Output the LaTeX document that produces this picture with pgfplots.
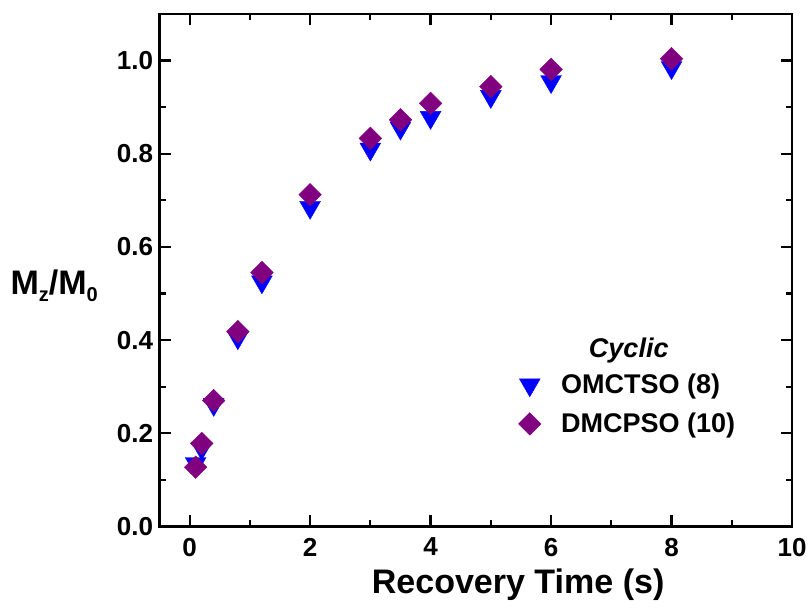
\documentclass[border=0pt]{standalone}
\usepackage{pgfplots}
\pgfplotsset{compat=1.18}
\usepackage{fontspec}
\setmainfont{Liberation Sans}
\definecolor{mblue}{RGB}{0,0,255}
\definecolor{mpurple}{RGB}{128,0,128}
\begin{document}
\begin{tikzpicture}
\begin{axis}[
  scale only axis, width=632pt, height=512pt,
  xmin=-0.5, xmax=10, ymin=0, ymax=1.1,
  xtick={0,2,4,6,8,10}, minor xtick={1,3,5,7,9},
  ytick={0,0.2,0.4,0.6,0.8,1.0}, minor ytick={0.1,0.3,0.5,0.7,0.9},
  tick align=inside, major tick length=11pt, minor tick length=6pt,
  axis line style={line width=2.6pt},
  every tick/.style={line width=2.2pt, black},
  /pgf/number format/assume math mode=true,
  yticklabel style={/pgf/number format/fixed, /pgf/number format/fixed zerofill, /pgf/number format/precision=1, font=\fontsize{26}{30}\selectfont\bfseries, xshift=-3pt},
  xticklabel style={font=\fontsize{26}{30}\selectfont\bfseries, yshift=-8pt},
  xlabel={Recovery Time (s)},
  xlabel style={font=\fontsize{34}{40}\selectfont\bfseries, at={(axis description cs:0.567,-0.113)}, anchor=center},
  ylabel={M\raisebox{-0.4ex}{\fontsize{20}{20}\selectfont z}/M\raisebox{-0.4ex}{\fontsize{20}{20}\selectfont 0}},
  ylabel style={font=\fontsize{34}{40}\selectfont\bfseries, rotate=-90, anchor=east, at={(axis description cs:-0.092,0.47)}},
  legend style={at={(axis cs:7.275,0.262)}, anchor=center, draw=none, fill=none, font=\fontsize{27}{32}\selectfont\bfseries, row sep=14pt,
    /tikz/every odd column/.append style={column sep=18pt}},
  legend cell align=left,
  clip=false,
]
\addplot[only marks, mark=triangle*, mark size=12pt, color=mblue, every mark/.append style={rotate=180}] coordinates {
(0.1,0.135) (0.2,0.168) (0.4,0.262) (0.8,0.405) (1.2,0.525) (2,0.685) (3,0.810) (3.5,0.855) (4,0.878) (5,0.923) (6,0.955) (8,0.985)
};
\addlegendentry{OMCTSO (8)}
\addplot[only marks, mark=square*, mark size=8pt, color=mpurple, every mark/.append style={rotate=45}] coordinates {
(0.1,0.127) (0.2,0.178) (0.4,0.270) (0.8,0.418) (1.2,0.545) (2,0.712) (3,0.833) (3.5,0.873) (4,0.908) (5,0.944) (6,0.981) (8,1.004)
};
\addlegendentry{DMCPSO (10)}
\node[font=\fontsize{27}{32}\selectfont\bfseries\itshape] at (axis cs:7.29,0.378) {Cyclic};
\coordinate (bbSW) at (axis description cs:-0.2522,-0.1719);
\coordinate (bbNE) at (axis description cs:1.0316,1.0273);
\end{axis}
\pgfresetboundingbox
\path (bbSW) rectangle (bbNE);
\end{tikzpicture}
\end{document}
